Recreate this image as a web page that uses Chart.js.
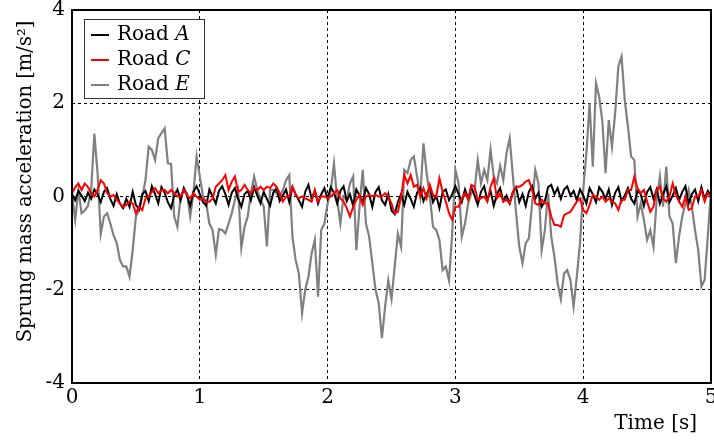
<!DOCTYPE html>
<html><head><meta charset="utf-8">
<script src="https://cdn.jsdelivr.net/npm/chart.js@4.4.1/dist/chart.umd.min.js"></script>
<style>html,body{margin:0;padding:0;background:#fff;}canvas{display:block;}</style>
</head><body>
<canvas id="c" width="714" height="443"></canvas>
<script>
// sampling step of the recorded signals [s]
const DT = 0.025;

// Road A (black)
const roadA = [
0.05,-0.08,0.12,0.02,-0.1,0.08,-0.05,0.15,0.05,-0.12,0.1,0.18,-0.05,-0.2,0.05,-0.15,-0.25,-0.05,-0.22,0.1,
-0.18,-0.28,0.05,0.12,-0.1,0.22,0.05,-0.15,0.2,0.08,-0.12,-0.25,0.02,0.15,-0.08,0.18,0.02,-0.2,0.1,0.22,
0.05,-0.12,-0.2,0.15,0.0,-0.15,0.12,0.22,0.05,-0.18,0.08,0.18,-0.05,-0.22,0.05,0.12,-0.08,0.2,0.02,-0.15,
0.1,-0.05,-0.2,0.08,0.18,-0.1,0.02,0.15,-0.12,0.2,0.05,-0.08,-0.22,0.1,0.25,-0.05,0.12,-0.15,0.05,0.18,
-0.05,0.2,0.08,-0.15,0.12,0.22,-0.1,0.05,-0.2,0.15,0.02,-0.12,0.18,0.05,-0.22,0.1,0.2,-0.08,-0.18,0.05,
-0.3,-0.38,-0.12,0.05,-0.18,0.1,-0.05,-0.22,0.08,0.18,-0.1,0.05,0.2,-0.12,0.02,-0.25,0.1,0.15,-0.08,0.05,
0.22,0.05,-0.12,0.15,-0.05,0.2,0.02,-0.18,0.1,0.22,-0.08,0.12,-0.2,0.05,0.18,-0.1,0.02,-0.15,0.1,0.2,
-0.12,0.05,-0.2,0.1,0.22,-0.05,0.08,-0.22,-0.1,0.2,0.25,0.05,0.18,-0.05,0.15,0.22,0.02,0.12,-0.08,0.15,
0.02,-0.15,0.18,0.05,-0.12,0.2,0.1,-0.05,0.15,-0.18,0.08,0.2,-0.1,0.02,0.18,-0.05,-0.15,0.12,0.05,-0.2,
0.1,0.2,-0.05,0.15,-0.15,0.05,0.22,-0.12,0.02,0.18,-0.08,0.1,0.22,-0.15,0.05,0.15,-0.1,0.2,-0.05,0.12,
0.02
];

// Road C (red)
const roadC = [
0.07,0.2,0.28,0.14,0.28,0.2,0.07,0,0.14,0.35,
0.28,0.07,0,0.03,-0.07,-0.15,-0.22,-0.18,-0.11,-0.15,
-0.36,-0.22,-0.29,-0.04,0,0.1,0.18,0.07,0.14,0.14,
0.07,0.14,0.07,0,0,0.14,0.03,-0.04,0.07,0,
-0.07,-0.04,-0.11,-0.11,-0.04,0.21,0.28,0.35,0.46,0.14,
0.32,0.43,0.1,0.14,0.25,0.14,0.07,0.18,0.14,0.21,
0.14,0.21,0.18,0.28,0.21,0.07,-0.11,0,0,0.21,
0.03,-0.04,0,-0.04,-0.07,-0.11,0.14,-0.11,0,0,
-0.04,0,0.07,0.14,-0.04,-0.11,-0.25,-0.43,-0.22,-0.07,
0.03,-0.18,0,0.03,0,0.03,0,0,0.07,0,
-0.15,-0.36,-0.33,0,0.46,0.28,0.46,0.21,0.25,0,
0.18,-0.04,0.25,0.03,0,0.39,0.1,-0.11,-0.36,-0.5,
-0.22,-0.22,-0.04,0.07,-0.07,0.25,0.21,-0.07,-0.04,0,
-0.11,0.21,0.39,-0.04,0.07,-0.11,-0.07,-0.15,0.1,0.21,
0.21,0.25,0.32,0.35,0.14,-0.15,-0.18,-0.07,-0.15,-0.15,
-0.43,-0.61,-0.61,-0.65,-0.4,-0.36,-0.33,-0.22,-0.11,-0.04,
-0.29,-0.36,-0.18,0.03,0,-0.07,0,-0.11,-0.04,-0.11,
-0.15,-0.29,-0.07,-0.07,0.14,0.14,0.43,0.18,0.07,0.14,
-0.11,-0.33,-0.22,0.14,0.21,-0.04,-0.11,0,0.28,0.03,
-0.11,-0.22,0,-0.29,-0.25,0,0,0.14,-0.11,0.07,
0
];

// Road E (gray)
const roadE = [
0.07,-0.5,0.14,-0.36,-0.3,-0.2,0.14,1.35,0.5,-0.8,
-0.43,-0.36,-0.58,-0.83,-1.0,-1.36,-1.5,-1.5,-1.72,-1.15,
-0.43,-0.29,0,0.35,1.07,1.0,0.78,1.25,1.36,1.46,
0.71,0.7,-0.43,-0.65,0,0.14,0.07,-0.43,0.07,0.86,
0.43,0,-0.15,-0.58,-0.72,-1.25,-0.7,-0.72,-0.79,-0.58,
-0.36,-0.07,0.14,-1.1,-0.65,-0.43,0.07,0.43,0.14,-0.07,
-0.21,-1.07,0.14,0.14,0.07,0,0.14,0.35,0.46,-0.86,
-1.36,-1.65,-2.5,-2.0,-1.72,-1.22,-0.93,-2.15,-0.72,-0.58,
-0.15,0.14,0.71,-0.07,-0.58,0,-0.07,0.28,0.43,-1.15,
-0.22,0.57,-0.58,-0.86,-1.43,-2.0,-2.29,-3.04,-2.36,-1.8,
-2.2,-1.5,-0.8,-1.08,0.57,0.5,0.78,0.86,0.43,0,
1.14,0.5,0,-0.65,-0.72,-0.93,-1.58,-1.5,-1.8,-0.79,
0.57,0.28,-0.86,-0.58,-0.15,0.07,0.14,0.78,0.28,0.57,
0.35,1.0,0.43,0.28,0.66,0.35,0.93,1.25,0.43,-0.36,
-1.08,-1.43,-1.0,-0.9,-0.15,0.57,0.28,-1.15,-0.72,0.07,
-0.86,-1.29,-1.86,-2.2,-1.65,-1.58,-1.79,-2.36,-1.72,-1.0,
0.14,0.93,2.0,0.64,2.43,2.14,1.6,0.5,1.64,1.07,
1.79,2.79,3.0,2.07,1.5,0.86,0.78,-0.43,-0.15,-0.5,
-0.93,-0.72,-1.08,-0.07,0.43,-0.22,0.64,-0.43,-0.58,-1.43,
-0.86,-0.43,-0.15,0.14,-0.22,-0.72,-1.15,-1.93,-1.79,-0.86,
0.14
];

const seriesLetters = ['A', 'C', 'E'];
const seriesValues = [roadA, roadC, roadE];
const seriesColors = ['#000000', '#ff0000', '#808080'];
const xTickValues = [0, 1, 2, 3, 4, 5];
const yTickValues = [-4, -2, 0, 2, 4];
const xTitle = 'Time [s]';
const yTitle = 'Sprung mass acceleration [m/s\u00B2]';

const time = roadA.map((_, i) => +(i * DT).toFixed(3));
const FONT = '"DejaVu Serif", serif';

const datasets = seriesValues.map((vals, k) => ({
  label: 'Road ' + seriesLetters[k],
  data: vals.map((v, i) => ({ x: time[i], y: v })),
  borderColor: seriesColors[k],
  backgroundColor: seriesColors[k],
  borderWidth: k === 2 ? 2.2 : 2,
  pointRadius: 0,
  tension: 0,
  fill: false,
  order: [2, 1, 3][k]
}));

const decor = {
  id: 'decor',
  afterDraw(chart) {
    const { ctx, chartArea: a } = chart;
    ctx.save();
    ctx.setLineDash([]);
    ctx.strokeStyle = '#000';
    ctx.lineWidth = 2;
    ctx.strokeRect(a.left, a.top, a.right - a.left, a.bottom - a.top);

    // legend
    const bx = a.left + 12, by = a.top + 9, bw = 120, bh = 79;
    ctx.fillStyle = '#fff';
    ctx.fillRect(bx, by, bw, bh);
    ctx.lineWidth = 1;
    ctx.strokeStyle = '#333';
    ctx.strokeRect(bx + 0.5, by + 0.5, bw, bh);
    chart.data.datasets.forEach((ds, k) => {
      const y = a.top + 25 + k * 25;
      ctx.strokeStyle = ds.borderColor;
      ctx.lineWidth = 2;
      ctx.beginPath();
      ctx.moveTo(bx + 7, y);
      ctx.lineTo(bx + 25, y);
      ctx.stroke();
      const parts = ds.label.split(' ');
      ctx.fillStyle = '#000';
      ctx.textAlign = 'left';
      ctx.textBaseline = 'middle';
      ctx.font = '20px ' + FONT;
      const base = parts[0] + ' ';
      ctx.fillText(base, bx + 33, y);
      const w = ctx.measureText(base).width;
      ctx.font = 'italic 20px ' + FONT;
      ctx.fillText(parts[1], bx + 33 + w, y);
    });

    // axis titles
    ctx.fillStyle = '#000';
    ctx.font = '20px ' + FONT;
    ctx.textAlign = 'right';
    ctx.textBaseline = 'middle';
    ctx.fillText(xTitle, a.right - 14, a.bottom + 41);
    ctx.font = '19.5px ' + FONT;
    ctx.translate(26, (a.top + a.bottom) / 2 - 15);
    ctx.rotate(-Math.PI / 2);
    ctx.textAlign = 'center';
    ctx.fillText(yTitle, 0, 0);
    ctx.restore();
  }
};

new Chart(document.getElementById('c'), {
  type: 'line',
  data: { datasets },
  options: {
    responsive: false,
    animation: false,
    devicePixelRatio: 1,
    layout: { padding: { left: 0, right: 3, top: 10, bottom: 0 } },
    plugins: { legend: { display: false }, tooltip: { enabled: false } },
    scales: {
      x: {
        type: 'linear', min: 0, max: 5,
        afterBuildTicks: s => { s.ticks = xTickValues.map(v => ({ value: v })); },
        ticks: { font: { family: FONT, size: 20 }, color: '#000', padding: 3, maxRotation: 0 },
        grid: { color: '#000', lineWidth: 1, drawTicks: false },
        border: { display: false, dash: [3, 3] },
        afterFit: s => { s.height = 60; s.paddingLeft = 0; s.paddingRight = 0; }
      },
      y: {
        type: 'linear', min: -4, max: 4,
        afterBuildTicks: s => { s.ticks = yTickValues.map(v => ({ value: v })); },
        ticks: { font: { family: FONT, size: 20 }, color: '#000', padding: 7 },
        grid: { color: '#000', lineWidth: 1, drawTicks: false },
        border: { display: false, dash: [3, 3] },
        afterFit: s => { s.width = 72; s.paddingTop = 0; s.paddingBottom = 0; }
      }
    }
  },
  plugins: [decor]
});
</script>
</body></html>
